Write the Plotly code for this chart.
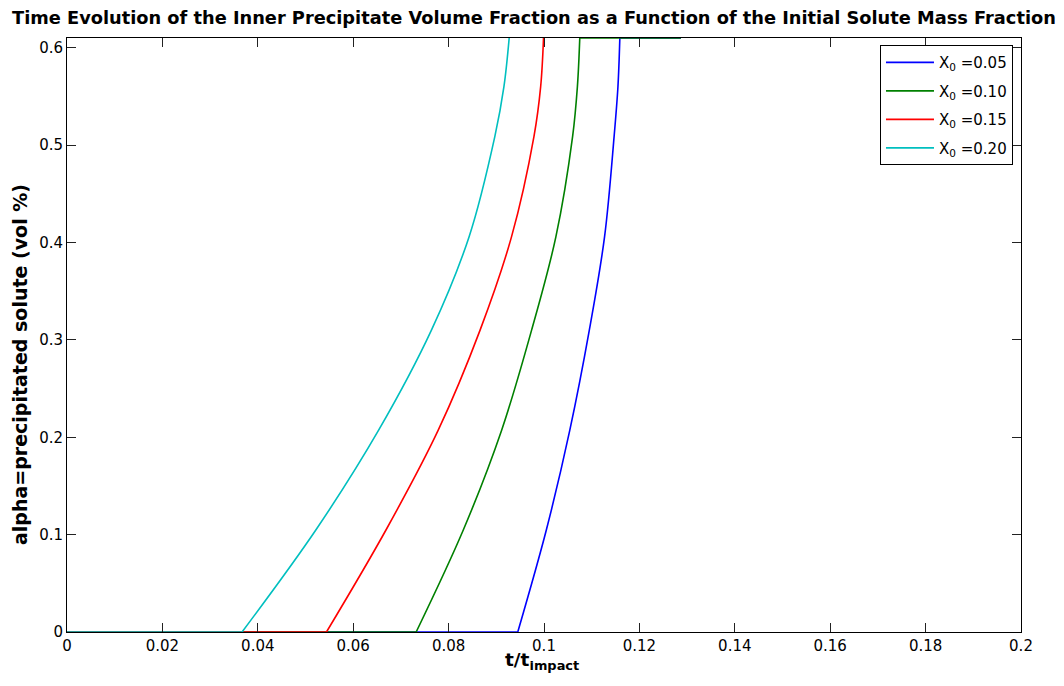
import plotly.graph_objects as go

# Data (t/t_impact, alpha)
alpha_levels = [0.0, 0.105, 0.207, 0.31, 0.406, 0.509, 0.56, 0.61]

t_x005 = [0.0945, 0.1005, 0.1054, 0.1095, 0.1127, 0.1147, 0.1155, 0.1159]
t_x010 = [0.0732, 0.0831, 0.0911, 0.0974, 0.1025, 0.1060, 0.1070, 0.1075]
t_x015 = [0.0544, 0.0669, 0.0778, 0.0866, 0.0932, 0.0979, 0.0993, 0.0999]
t_x020 = [0.0367, 0.0522, 0.0653, 0.0764, 0.0843, 0.0897, 0.0916, 0.0927]

t_start = 0.0
t_end_flat = 0.1287

series_names = ["X<sub>0</sub> =0.05", "X<sub>0</sub> =0.10",
                "X<sub>0</sub> =0.15", "X<sub>0</sub> =0.20"]
series_t = [t_x005, t_x010, t_x015, t_x020]
flat_after = [True, True, False, False]
colors = ["#0000ff", "#008000", "#ff0000", "#00bfbf"]

x_ticks = [0, 0.02, 0.04, 0.06, 0.08, 0.1, 0.12, 0.14, 0.16, 0.18, 0.2]
x_tick_labels = ["0", "0.02", "0.04", "0.06", "0.08", "0.1", "0.12", "0.14", "0.16", "0.18", "0.2"]
y_ticks = [0, 0.1, 0.2, 0.3, 0.4, 0.5, 0.6]
y_tick_labels = ["0", "0.1", "0.2", "0.3", "0.4", "0.5", "0.6"]

FONT = "DejaVu Sans, Liberation Sans, Arial, sans-serif"

fig = go.Figure()
for i, (name, ts, flat, col) in enumerate(zip(series_names, series_t, flat_after, colors)):
    grp = f"g{i}"
    # zero portion before precipitation starts
    fig.add_trace(go.Scatter(x=[t_start, ts[0]], y=[0.0, alpha_levels[0]], mode="lines",
                             legendgroup=grp, showlegend=False,
                             line=dict(color=col, width=1.6)))
    fig.add_trace(go.Scatter(x=ts, y=alpha_levels, mode="lines", name=name, legendgroup=grp,
                             line=dict(color=col, width=1.6, shape="spline", smoothing=1.0)))
    if flat:
        fig.add_trace(go.Scatter(x=[ts[-1], t_end_flat], y=[alpha_levels[-1], alpha_levels[-1]],
                                 mode="lines", showlegend=False, legendgroup=grp,
                                 line=dict(color=col, width=1.6)))

axis_common = dict(showgrid=False, zeroline=False, showline=True, linecolor="black",
                   linewidth=1, mirror="ticks", ticks="inside", ticklen=9,
                   tickcolor="#222222", tickwidth=1,
                   tickfont=dict(family=FONT, size=15, color="black"))

fig.update_layout(
    width=1064, height=686,
    margin=dict(l=67, r=43, t=38, b=54),
    paper_bgcolor="white", plot_bgcolor="white",
    font=dict(family=FONT, color="black"),
    xaxis=dict(range=[0, 0.2], tickvals=x_ticks, ticktext=x_tick_labels, **axis_common),
    yaxis=dict(range=[0, 0.61], tickvals=y_ticks, ticktext=y_tick_labels, **axis_common),
    legend=dict(x=0.9916, y=0.988, xanchor="right", yanchor="top",
                bgcolor="white", bordercolor="black", borderwidth=1,
                traceorder="grouped", tracegroupgap=6, itemwidth=48,
                font=dict(family=FONT, size=15, color="black")),
    showlegend=True,
)

fig.add_annotation(text="<b>Time Evolution of the Inner Precipitate Volume Fraction as a Function of the Initial Solute Mass Fraction</b>",
                   xref="paper", yref="paper", x=(534 - 67) / 954, y=1.0, xanchor="center", yanchor="middle",
                   yshift=21, showarrow=False, font=dict(family=FONT, size=17.8, color="black"))
fig.add_annotation(text="<b>t/t<sub>impact</sub></b>",
                   xref="paper", yref="paper", x=(542 - 67) / 954, y=0, xanchor="center", yanchor="top",
                   yshift=-15, showarrow=False, font=dict(family=FONT, size=18.5, color="black"))
fig.add_annotation(text="<b>alpha=precipitated solute (vol %)</b>",
                   xref="paper", yref="paper", x=0, y=(632 - 365) / 594, xanchor="center", yanchor="middle",
                   xshift=-47, textangle=-90, showarrow=False,
                   font=dict(family=FONT, size=19, color="black"))

fig.write_html("out.html")
